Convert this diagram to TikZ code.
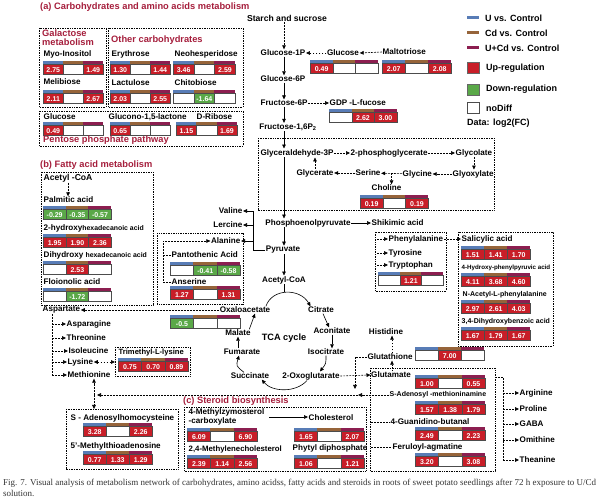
\documentclass[tikz,border=0pt]{standalone}
\usepackage{fontspec}
\setmainfont{Liberation Sans}
\newfontfamily\capfont{Liberation Serif}
\usetikzlibrary{arrows.meta,calc}

\definecolor{up}{RGB}{200,30,40}
\definecolor{dn}{RGB}{90,168,72}
\definecolor{nd}{RGB}{255,255,255}
\definecolor{sec}{RGB}{165,30,60}
\definecolor{bar1}{RGB}{88,124,182}
\definecolor{bar2}{RGB}{150,100,58}
\definecolor{bar3}{RGB}{140,30,80}

\tikzset{
  met/.style={font=\bfseries\fontsize{8.1}{9}\selectfont, inner sep=0.5pt},
  metsm/.style={font=\bfseries\fontsize{7}{8}\selectfont, inner sep=0.5pt},
  metxs/.style={font=\bfseries\fontsize{6.2}{7}\selectfont, inner sep=0.5pt},
  sect/.style={font=\bfseries\fontsize{9.3}{9}\selectfont, text=sec, inner sep=0pt},
  lgd/.style={font=\bfseries\fontsize{9}{10}\selectfont, inner sep=0pt, anchor=west},
  grp/.style={draw, line width=0.8pt, dash pattern=on 0.8pt off 0.9pt},
  flow/.style={-{Triangle[length=4pt,width=3.6pt]}, line width=0.6pt},
  dflow/.style={flow, dash pattern=on 1.8pt off 1.2pt},
  ddflow/.style={dflow, {Triangle[length=4pt,width=3.6pt]}-{Triangle[length=4pt,width=3.6pt]}},
  dline/.style={line width=0.6pt, dash pattern=on 1.8pt off 1.2pt},
  cell/.style={draw=black!70, line width=0.6pt, inner sep=0pt, minimum height=10pt,
    anchor=north west, text=white, font=\bfseries\fontsize{7}{7}\selectfont},
}

% name, x, y, cell width, list of colour/value
\newcommand{\fcrow}[5]{%
  \foreach \fc/\fv [count=\ci] in {#5}{
    \fill[fill=bar\ci] ({#2+(\ci-1)*#4},{#3-0.4}) rectangle ++(#4,3);
    \node[cell, fill=\fc, minimum width=#4pt] at ({#2+(\ci-1)*#4},{#3+3.4}) (#1-\ci) {\fv};
  }%
}

\begin{document}
\begin{tikzpicture}[x=1pt,y=-1pt]
\useasboundingbox (0,0) rectangle (600,502);

% legend
\draw[bar1, line width=3pt] (467,18) -- (479,18);
\node[lgd] at (485,18) (lgU) {U vs. Control};
\draw[bar2, line width=3pt] (467,33) -- (479,33);
\node[lgd] at (485,33) (lgCd) {Cd vs. Control};
\draw[bar3, line width=3pt] (467,48) -- (479,48);
\node[lgd] at (485,48) (lgUCd) {U+Cd vs. Control};
\draw[fill=up, draw=black!60] (467,62) rectangle (479,73);
\node[lgd] at (486,68) (lgUp) {Up-regulation};
\draw[fill=dn, draw=black!60] (467,84) rectangle (479,95);
\node[lgd] at (486,89) (lgDn) {Down-regulation};
\draw[fill=white, draw=black!70, line width=.6pt] (467,102) rectangle (479,113);
\node[lgd] at (486,108) (lgNd) {noDiff};
\node[lgd] at (467,123) (lgData) {Data: log2(FC)};

% (a) carbohydrates
\node[sect, anchor=west] at (40,7) (titleA) {(a) Carbohydrates and amino acids metabolism};
\draw[grp] (39,28) rectangle (106,107);
\node[sect, anchor=north west, align=left] at (42,30) (galT) {Galactose\\metabolism};
\node[met, anchor=west] at (43,54) (myo) {Myo-Inositol};
\fcrow{myoD}{43}{61}{20}{up/2.75,nd/{},up/1.49}
\node[met, anchor=west] at (43,82) (meli) {Melibiose};
\fcrow{meliD}{43}{90}{20}{up/2.11,nd/{},up/2.67}

\draw[grp] (108,28) rectangle (243,107);
\node[sect, anchor=west] at (111,40) (othT) {Other carbohydrates};
\node[met, anchor=west] at (111,54) (ery) {Erythrose};
\node[met, anchor=west] at (174,54) (neo) {Neohesperidose};
\fcrow{eryD}{110}{61}{20}{up/1.30,nd/{},up/1.44}
\fcrow{neoD}{173}{61}{20.7}{up/3.46,nd/{},up/2.59}
\node[met, anchor=west] at (111,83) (lac) {Lactulose};
\node[met, anchor=west] at (174,83) (chi) {Chitobiose};
\fcrow{lacD}{110}{90}{20}{up/2.03,nd/{},up/2.55}
\fcrow{chiD}{173}{90}{20.7}{nd/{},dn/-1.64,nd/{}}

\draw[grp] (39,111) rectangle (243,146);
\node[met, anchor=west] at (43,117) (glcP) {Glucose};
\node[met, anchor=west] at (108,117) (glcn) {Glucono-1,5-lactone};
\node[met, anchor=west] at (196,117) (rib) {D-Ribose};
\fcrow{glcPD}{43}{122}{20}{up/0.49,nd/{},nd/{}}
\fcrow{glcnD}{110}{122}{20}{up/0.65,nd/{},nd/{}}
\fcrow{ribD}{176}{122}{20.3}{up/1.15,nd/{},up/1.69}
\node[sect, anchor=west] at (43,140) (ppT) {Pentose phosphate pathway};

% glycolysis
\path (284,0) coordinate (ax);
\node[met, font=\bfseries\fontsize{8.6}{9}\selectfont] at (287,18) (starch) {Starch and sucrose};
\node[met] at (283,53) (g1p) {Glucose-1P};
\node[met] at (343,53) (glc) {Glucose};
\node[met, anchor=west] at (382,52) (malt) {Maltotriose};
\fcrow{glcD}{310}{60}{22.7}{up/0.49,nd/{},nd/{}}
\fcrow{maltD}{382}{60}{23}{up/2.07,nd/{},up/2.08}
\node[met] at (283,79) (g6p) {Glucose-6P};
\node[met] at (284,103) (f6p) {Fructose-6P};
\node[met, anchor=west] at (329,103) (gdp) {GDP -L-fucose};
\fcrow{gdpD}{329}{109}{22.5}{nd/{},up/2.62,up/3.00}
\node[met] at (288,127) (fbp) {Fructose-1,6P\textsubscript{2}};
\draw[dflow] (starch.south -| ax) -- (g1p.north -| ax);
\draw[dflow] (glc) -- (g1p);
\draw[dflow] (malt.west) -- (glc.east);
\draw[flow] (g1p.south -| ax) -- (g6p.north -| ax);
\draw[flow] (g6p.south -| ax) -- (f6p.north -| ax);
\draw[dflow] (f6p) -- (gdp);
\draw[flow] (f6p.south -| ax) -- (fbp.north -| ax);

\draw[grp] (258,138) rectangle (494,210);
\node[met] at (297,153) (g3p) {Glyceraldehyde-3P};
\draw[flow] (fbp.south -| ax) -- (g3p.north -| ax);
\node[met, anchor=west] at (350,153) (pgly) {2-phosphoglycerate};
\node[met, anchor=west] at (455,153) (glycol) {Glycolate};
\node[met, anchor=west] at (452,174) (glyox) {Glyoxylate};
\node[met, anchor=west] at (402,174) (gly) {Glycine};
\node[met, anchor=west] at (355,173) (ser) {Serine};
\node[met] at (315,173) (glyce) {Glycerate};
\node[met, anchor=west] at (371,188) (chl) {Choline};
\fcrow{chlD}{360}{195}{22.7}{up/0.19,nd/{},up/0.19}
\draw[dflow] (g3p) -- (pgly);
\draw[dflow] (pgly) -- (glycol);
\draw[dflow] (glycol.south) -- (glycol.south |- glyox.north);
\draw[dflow] (glyox) -- (gly);
\draw[dflow] (gly) -- (ser);
\coordinate (sg) at ($(ser.east)!.5!(gly.west)$);
\draw[dflow] (sg) -- (sg |- chl.north);
\draw[dflow] (ser) -- (glyce);
\draw[dflow] (glyce.north) -- (glyce.north |- g3p.south);

\node[met] at (308,223) (pep) {Phosphoenolpyruvate};
\node[met, anchor=west] at (371,223) (shik) {Shikimic acid};
\draw[flow] (g3p.south -| ax) -- (pep.north -| ax);
\draw[flow] (pep) -- (shik);
\node[met] at (283,250) (pyr) {Pyruvate};
\draw[flow] (pep.south -| ax) -- (pyr.north -| ax);

% amino acids from pyruvate
\node[met, anchor=east] at (243,211) (val) {Valine};
\node[met, anchor=east] at (243,225) (ler) {Lercine};
\node[met, anchor=east] at (241,241) (ala) {Alanine};
\path (253,0) coordinate (aa);
\draw[line width=.6pt] (pyr.west) -| (aa |- val.east);
\foreach \n in {val,ler,ala} \draw[flow] (aa |- \n.east) -- (\n.east);

\draw[grp] (157,233) rectangle (243,304);
\node[met, anchor=west] at (171,255) (pan) {Pantothenic Acid};
\fcrow{panD}{170}{262}{23.3}{nd/{},dn/-0.41,dn/-0.58}
\node[met, anchor=west] at (171,282) (ans) {Anserine};
\fcrow{ansD}{170}{286}{23.3}{up/1.27,nd/{},up/1.31}
\path (163,0) coordinate (al);
\draw[dflow] (ans.west) -- (ans.west -| al) -- (al |- ala.west) -- (ala.west);
\draw[dline] (pan.west -| al) -- (pan.west);

% TCA cycle
\node[met] at (284,280) (acoa) {Acetyl-CoA};
\draw[flow] (pyr.south -| ax) -- (acoa.north -| ax);
\draw[line width=.6pt] (acoa.south -| ax) -- ++(0,7.5);
\node[met] at (245,310) (oxa) {Oxaloacetate};
\node[met] at (321,310) (cit) {Citrate};
\node[met] at (332,331) (aco) {Aconitate};
\node[met] at (326,352) (iso) {Isocitrate};
\node[met] at (311,376) (oxg) {2-Oxoglutarate};
\node[met] at (250,376) (suc) {Succinate};
\node[met] at (242,352) (fum) {Fumarate};
\node[met] at (238,333) (mal) {Malate};
\node[font=\bfseries\fontsize{9.2}{10}\selectfont, inner sep=0pt] at (284,338) (tca) {TCA cycle};
\draw[flow] ($(oxa.north east)+(-5,0)$) .. controls (272,288) and (300,288) .. ($(cit.north west)+(3,0)$);
\draw[flow] ($(cit.south)+(2,0)$) -- ($(aco.north)+(-3,0)$);
\draw[flow] (aco.south) -- (aco.south |- iso.north);
\draw[flow] (iso.south) .. controls ($(iso.south)+(0,8)$) .. ($(oxg.north)+(9,0)$);
\draw[flow] ($(oxg.south)+(-4,0)$) .. controls (296,393) and (272,392) .. ($(suc.south east)+(-8,0)$);
\draw[flow] ($(suc.north)+(-6,0)$) .. controls (236,366) .. ($(fum.south)+(-3,0)$);
\draw[flow] (fum.north -| mal.south) -- (mal.south);
\draw[flow] ($(mal.north east)+(-2,0)$) -- ($(oxa.south)+(10,0)$);
\fcrow{oxaD}{170}{315}{23.3}{dn/-0.5,nd/{},nd/{}}

% aspartate family
\node[met, anchor=west] at (42,310) (asp) {Aspartate};
\draw[dflow] (oxa.west) -- (asp.east);
\path (52,0) coordinate (ab);
\node[met, anchor=west] at (66,324) (asn) {Asparagine};
\node[met, anchor=west] at (66,338) (thr) {Threonine};
\node[met, anchor=west] at (68,351) (ile) {Isoleucine};
\node[met, anchor=west] at (67,362) (lys) {Lysine};
\node[met, anchor=west] at (67,375) (metn) {Methionine};
\draw[dline] (asp.south -| ab) -- (ab |- metn.west);
\foreach \n in {asn,thr,ile,lys,metn} \draw[dflow] (ab |- \n.west) -- (\n.west);

\draw[grp] (115,347) rectangle (190,376);
\node[met, font=\bfseries\fontsize{7.6}{9}\selectfont, anchor=west] at (118,353) (tml) {Trimethyl-L-lysine};
\fcrow{tmlD}{118}{358}{23.3}{up/0.75,up/0.70,up/0.89}
\path (115,362) coordinate (tmlL);
\draw[ddflow] (lys.east) -- (tmlL);

\path (94,395) coordinate (mx);
\path (94,409) coordinate (sahT);
\draw[dflow] (mx) -- (mx |- metn.south);
\draw[dflow] (mx) -- (sahT);
\draw[grp] (66,409) rectangle (178,469);
\node[met, anchor=west] at (70,418) (sah) {S - Adenosylhomocysteine};
\fcrow{sahD}{83}{423}{23}{up/3.28,nd/{},up/2.26}
\node[met, anchor=west] at (70,446) (mta) {5'-Methylthioadenosine};
\fcrow{mtaD}{83}{451}{23}{up/0.77,up/1.33,up/1.29}

% glutamate family
\node[met] at (386,332) (his) {Histidine};
\node[met] at (390,357) (gsh) {Glutathione};
\fcrow{gshD}{415}{347}{23}{nd/{},up/7.00,nd/{}}
\node[met] at (391,375) (glu) {Glutamate};
\fcrow{gluD}{415}{375}{23.3}{up/1.00,nd/{},up/0.55}
\path (392,0) coordinate (gx);
\draw[dflow] (glu.north -| gx) -- (gsh.south -| gx);
\draw[dflow] (gsh.north -| gx) -- (his.south -| gx);
\draw[dflow] (oxg.east) -- (glu.west);
\path (355,0) coordinate (vx);
\path (358,395) coordinate (sx);
\draw[dflow] (gsh.west) -| ($(vx |- sx)+(0,-6)$);

\draw[grp] (370,368) rectangle (495,471);
\node[metsm, anchor=west] at (389,395) (sadm) {S-Adenosyl -methioninamine};
\fcrow{sadmD}{415}{401}{23.3}{up/1.57,up/1.38,up/1.79}
\node[met, anchor=west] at (390,422) (gua) {4-Guanidino-butanal};
\fcrow{guaD}{415}{427}{23.3}{up/2.49,nd/{},up/2.23}
\node[met, anchor=west] at (392,447) (fer) {Feruloyl-agmatine};
\fcrow{ferD}{415}{453}{23.3}{up/3.20,nd/{},up/3.08}
\path (371,0) coordinate (bl);
\draw[dline] (bl |- gua.west) -- (gua.west);
\draw[dline] (bl |- fer.west) -- (fer.west);
\draw[dflow] (sadm.west) -- (sx);
\draw[dflow] (sx) -- ($(mx)+(3,0)$);

\node[met, anchor=west] at (519,393) (arg) {Arginine};
\node[met, anchor=west] at (519,409) (pro) {Proline};
\node[met, anchor=west] at (519,424) (gaba) {GABA};
\node[met, anchor=west] at (519,440) (orn) {Omithine};
\node[met, anchor=west] at (519,460) (thea) {Theanine};
\path (495,377) coordinate (gbs);
\path (503,0) coordinate (gb);
\draw[dline] (gbs) -| (gb |- thea.west);
\foreach \n in {arg,pro,gaba,orn,thea} \draw[dflow] (gb |- \n.west) -- (\n.west);

% shikimate branch
\draw[grp] (375,232) rectangle (446,291);
\node[met, anchor=west] at (388,239) (phe) {Phenylalanine};
\node[met, anchor=west] at (388,253) (tyr) {Tyrosine};
\node[met, anchor=west] at (388,265) (trp) {Tryptophan};
\path (377,0) coordinate (sk);
\foreach \n in {phe,tyr,trp} \draw[dflow] (sk |- \n.west) -- (\n.west);
\fcrow{trpD}{378}{272}{21.7}{nd/{},up/1.21,nd/{}}

\draw[grp] (458,232) rectangle (553,346);
\node[met, anchor=west] at (461,239) (sal) {Salicylic acid};
\draw[dflow] (phe.east) -- (sal.west);
\fcrow{salD}{461}{246}{23}{up/1.51,up/1.41,up/1.70}
\node[metxs, anchor=west] at (461,268) (hpp) {4-Hydroxy-phenylpyruvic acid};
\fcrow{hppD}{461}{273}{23}{up/4.11,up/3.68,up/4.60}
\node[metsm, anchor=west] at (462,295) (nac) {N-Acetyl-L-phenylalanine};
\fcrow{nacD}{461}{300}{23}{up/2.97,up/2.61,up/4.03}
\node[metsm, anchor=west] at (461,322) (dhb) {3,4-Dihydroxybenzoic acid};
\fcrow{dhbD}{461}{327}{23}{up/1.67,up/1.79,up/1.67}

% (b) fatty acids
\node[sect, anchor=west] at (40,165) (fatT) {(b) Fatty acid metabolism};
\draw[grp] (41,172) rectangle (153,305);
\node[met, font=\bfseries\fontsize{8.6}{9}\selectfont, anchor=west] at (43,178) (acoaF) {Acetyl -CoA};
\node[met, anchor=west] at (43,200) (pal) {Palmitic acid};
\draw[dflow] (acoaF.south) -- (acoaF.south |- pal.north);
\fcrow{palD}{43}{206}{22.7}{dn/-0.29,dn/-0.35,dn/-0.57}
\node[met, anchor=west] at (43,228) (hhd) {2-hydroxy{\fontsize{6.9}{7}\selectfont hexadecanoic acid}};
\fcrow{hhdD}{43}{234}{22.7}{up/1.95,up/1.90,up/2.36}
\node[met, anchor=west] at (43,255) (dhh) {Dihydroxy {\fontsize{6.9}{7}\selectfont hexadecanoic acid}};
\fcrow{dhhD}{43}{261}{22.7}{nd/{},up/2.53,nd/{}}
\node[met, anchor=west] at (43,282) (flo) {Floionolic acid};
\fcrow{floD}{43}{288}{22.7}{nd/{},dn/-1.72,nd/{}}

% (c) steroids
\node[sect, anchor=west] at (183,401) (steT) {(c) Steroid biosynthesis};
\draw[grp] (184,407) rectangle (366,471);
\node[met, anchor=north west, align=left] at (188,408) (mzs) {4-Methylzymosterol\\-carboxylate};
\node[met, anchor=west] at (308,418) (chol) {Cholesterol};
\draw[flow] ($(mzs.east)+(4,0)$) -- (chol.west |- mzs.east);
\fcrow{mzsD}{187}{428}{23.3}{up/6.09,nd/{},up/6.90}
\fcrow{cholD}{294}{428}{23.3}{up/1.65,nd/{},up/2.07}
\node[met, font=\bfseries\fontsize{7.8}{9}\selectfont, anchor=west] at (188,449) (mch) {2,4-Methylenecholesterol};
\node[met, anchor=west] at (292,448) (phy) {Phytyl diphosphate};
\fcrow{mchD}{187}{455}{23.3}{up/2.39,up/1.14,up/2.56}
\fcrow{phyD}{294}{455}{23.3}{up/1.06,nd/{},up/1.21}

% caption
\node[anchor=north west, inner sep=0pt, align=left, text=black!80,
  font=\capfont\fontsize{9}{11}\selectfont] at (3,479) (cap)
  {Fig. 7. Visual analysis of metabolism network of carbohydrates, amino acidss, fatty acids and steroids in roots of sweet potato seedlings after 72 h exposure to U/Cd\\solution.};
\end{tikzpicture}
\end{document}
